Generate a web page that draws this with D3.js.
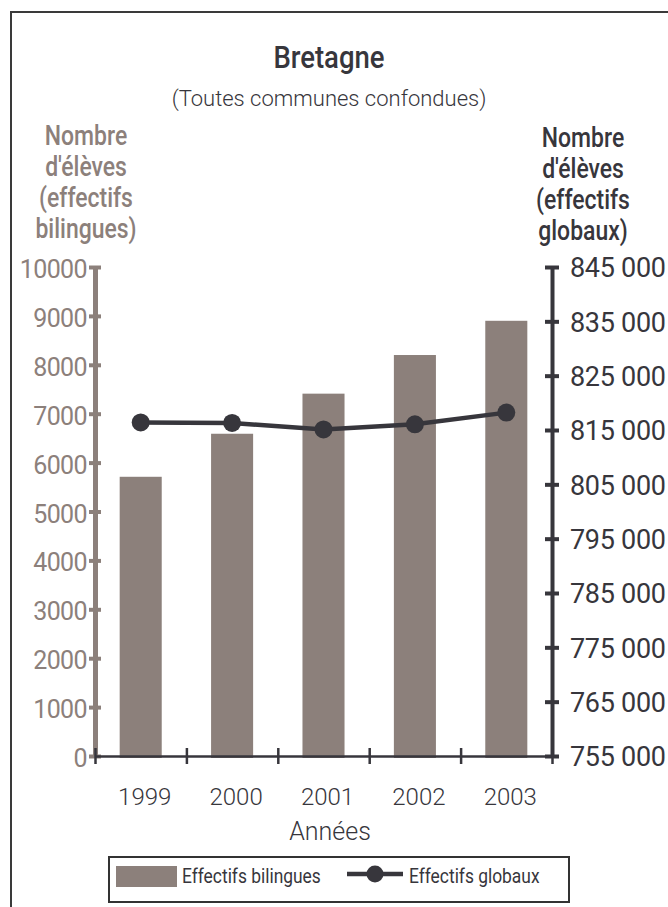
<!DOCTYPE html>
<html>
<head>
<meta charset="utf-8">
<script src="https://cdn.jsdelivr.net/npm/d3@7"></script>
<style>
  body { margin: 0; background: #fff; }
  svg { display: block; }
</style>
</head>
<body>
<div id="chart"></div>
<script>
// data
var years = ['1999', '2000', '2001', '2002', '2003'];
var bilingues = [5710, 6590, 7410, 8200, 8900];
var globaux = [816400, 816300, 815100, 816050, 818200];
var leftTicks = [0, 1000, 2000, 3000, 4000, 5000, 6000, 7000, 8000, 9000, 10000];
var rightTicks = [755000, 765000, 775000, 785000, 795000, 805000, 815000, 825000, 835000, 845000];
var leftTitle = ['Nombre', "d'élèves", '(effectifs', 'bilingues)'];
var rightTitle = ['Nombre', "d'élèves", '(effectifs', 'globaux)'];

var width = 668,
    height = 907;

var barColor = '#8c807b',
    darkColor = '#37363c';

var light = 'Roboto, "Liberation Sans", sans-serif';

var svg = d3.select('#chart').append('svg')
    .attr('width', width)
    .attr('height', height);

// squeezed text (the original uses a condensed face)
function narrowText(parent, x, y, k, size, weight, color, anchor, txt) {
    return parent.append('g')
        .attr('transform', 'translate(' + x + ',' + y + ') scale(' + k + ',1)')
        .append('text')
        .attr('text-anchor', anchor)
        .attr('fill', color)
        .style('font-family', light)
        .style('font-weight', weight)
        .style('font-size', size + 'px')
        .text(txt);
}

// outer frame (runs off the right and bottom edges)
svg.append('rect')
    .attr('x', 11).attr('y', 12)
    .attr('width', 700).attr('height', 950)
    .attr('fill', 'none')
    .attr('stroke', '#3a3a3a')
    .attr('stroke-width', 2);

var x0 = 95, x1 = 552, yBase = 756, yTop = 267;

var xBand = d3.scaleBand()
    .domain(years)
    .range([x0, x1])
    .paddingInner(0.54)
    .paddingOuter(0.27);

var xEdge = d3.scaleLinear()
    .domain([0, years.length])
    .range([x0, x1]);

var yLeft = d3.scaleLinear()
    .domain([0, 10000])
    .range([yBase, yTop]);

var yRight = d3.scaleLinear()
    .domain([755000, 845000])
    .range([yBase, yTop]);

var data = years.map(function(y, i) {
    return { year: y, bil: bilingues[i], glob: globaux[i] };
});

var cx = function(d) { return xBand(d.year) + xBand.bandwidth() / 2; };

// bars
svg.selectAll('.bar')
    .data(data)
    .enter().append('rect')
    .attr('class', 'bar')
    .attr('x', function(d) { return xBand(d.year); })
    .attr('width', xBand.bandwidth())
    .attr('y', function(d) { return yLeft(d.bil); })
    .attr('height', function(d) { return yBase + 2 - yLeft(d.bil); })
    .attr('fill', barColor);

// left axis
var gL = svg.append('g')
    .attr('transform', 'translate(' + x0 + ',0)')
    .call(d3.axisLeft(yLeft).tickValues(leftTicks).tickFormat(d3.format('d')).tickSize(6).tickSizeOuter(0).tickPadding(2));
gL.select('.domain').attr('stroke', barColor).attr('stroke-width', 5);
gL.selectAll('.tick line').attr('x1', -6).attr('x2', 6).attr('stroke', barColor).attr('stroke-width', 4);
gL.selectAll('.tick text')
    .attr('fill', barColor)
    .attr('dy', '0.42em')
    .style('font-family', light)
    .style('font-size', '25px')
    .style('letter-spacing', '-0.6px');

// right axis
var fmt = d3.formatLocale({ decimal: ',', thousands: ' ', grouping: [3], currency: ['', ' €'] }).format(',');
var gR = svg.append('g')
    .attr('transform', 'translate(' + x1 + ',0)')
    .call(d3.axisRight(yRight).tickValues(rightTicks).tickFormat(fmt).tickSize(7).tickSizeOuter(0).tickPadding(11));
gR.select('.domain').attr('stroke', darkColor).attr('stroke-width', 4);
gR.selectAll('.tick line').attr('x1', -7).attr('x2', 7).attr('stroke', darkColor).attr('stroke-width', 4);
gR.selectAll('.tick text')
    .attr('fill', darkColor)
    .attr('dy', '0.36em')
    .style('font-family', light)
    .style('font-size', '27px')
    .style('letter-spacing', '-0.3px');

// bottom axis: ticks on category edges
var gB = svg.append('g')
    .attr('transform', 'translate(0,' + yBase + ')')
    .call(d3.axisBottom(xEdge).tickValues(d3.range(years.length + 1)).tickFormat('').tickSize(8).tickSizeOuter(0));
gB.select('.domain').attr('stroke', darkColor).attr('stroke-width', 2.5);
gB.selectAll('.tick line').attr('y1', -8).attr('y2', 8).attr('stroke', darkColor).attr('stroke-width', 2.5);

// year labels
var gY = svg.append('g')
    .attr('transform', 'translate(4,' + yBase + ')')
    .call(d3.axisBottom(xBand).tickSize(0).tickPadding(32));
gY.select('.domain').remove();
gY.selectAll('.tick text')
    .attr('fill', darkColor)
    .style('font-family', light)
    .style('font-weight', 300)
    .style('font-size', '24px');

// line
var line = d3.line()
    .x(cx)
    .y(function(d) { return yRight(d.glob); });

svg.append('path')
    .datum(data)
    .attr('d', line)
    .attr('fill', 'none')
    .attr('stroke', darkColor)
    .attr('stroke-width', 4.5);

svg.selectAll('.dot')
    .data(data)
    .enter().append('circle')
    .attr('class', 'dot')
    .attr('cx', cx)
    .attr('cy', function(d) { return yRight(d.glob); })
    .attr('r', 9)
    .attr('fill', darkColor);

// titles
narrowText(svg, 329, 68, 0.86, 32, 500, darkColor, 'middle', 'Bretagne');

svg.append('text')
    .attr('x', 329).attr('y', 106)
    .attr('text-anchor', 'middle')
    .attr('fill', darkColor)
    .style('font-family', light)
    .style('font-weight', 300)
    .style('font-size', '22px')
    .text('(Toutes communes confondues)');

svg.append('text')
    .attr('x', 330).attr('y', 840)
    .attr('text-anchor', 'middle')
    .attr('fill', darkColor)
    .style('font-family', light)
    .style('font-weight', 300)
    .style('font-size', '25px')
    .text('Années');

leftTitle.forEach(function(t, i) {
    narrowText(svg, 86, 145 + i * 31, 0.82, 28, 500, barColor, 'middle', t);
});

rightTitle.forEach(function(t, i) {
    narrowText(svg, 583, 147 + i * 31, 0.82, 28, 500, darkColor, 'middle', t);
});

// legend
var leg = svg.append('g');
leg.append('rect')
    .attr('x', 109).attr('y', 857)
    .attr('width', 460).attr('height', 45)
    .attr('fill', '#fff')
    .attr('stroke', '#333')
    .attr('stroke-width', 2);
leg.append('rect')
    .attr('x', 116).attr('y', 866)
    .attr('width', 61).attr('height', 21)
    .attr('fill', barColor);
narrowText(leg, 182, 883, 0.87, 20, 400, darkColor, 'start', 'Effectifs bilingues');
leg.append('line')
    .attr('x1', 347).attr('x2', 403)
    .attr('y1', 874).attr('y2', 874)
    .attr('stroke', darkColor)
    .attr('stroke-width', 4.5);
leg.append('circle')
    .attr('cx', 375).attr('cy', 874)
    .attr('r', 8.5)
    .attr('fill', darkColor);
narrowText(leg, 409, 883, 0.87, 20, 400, darkColor, 'start', 'Effectifs globaux');
</script>
</body>
</html>
